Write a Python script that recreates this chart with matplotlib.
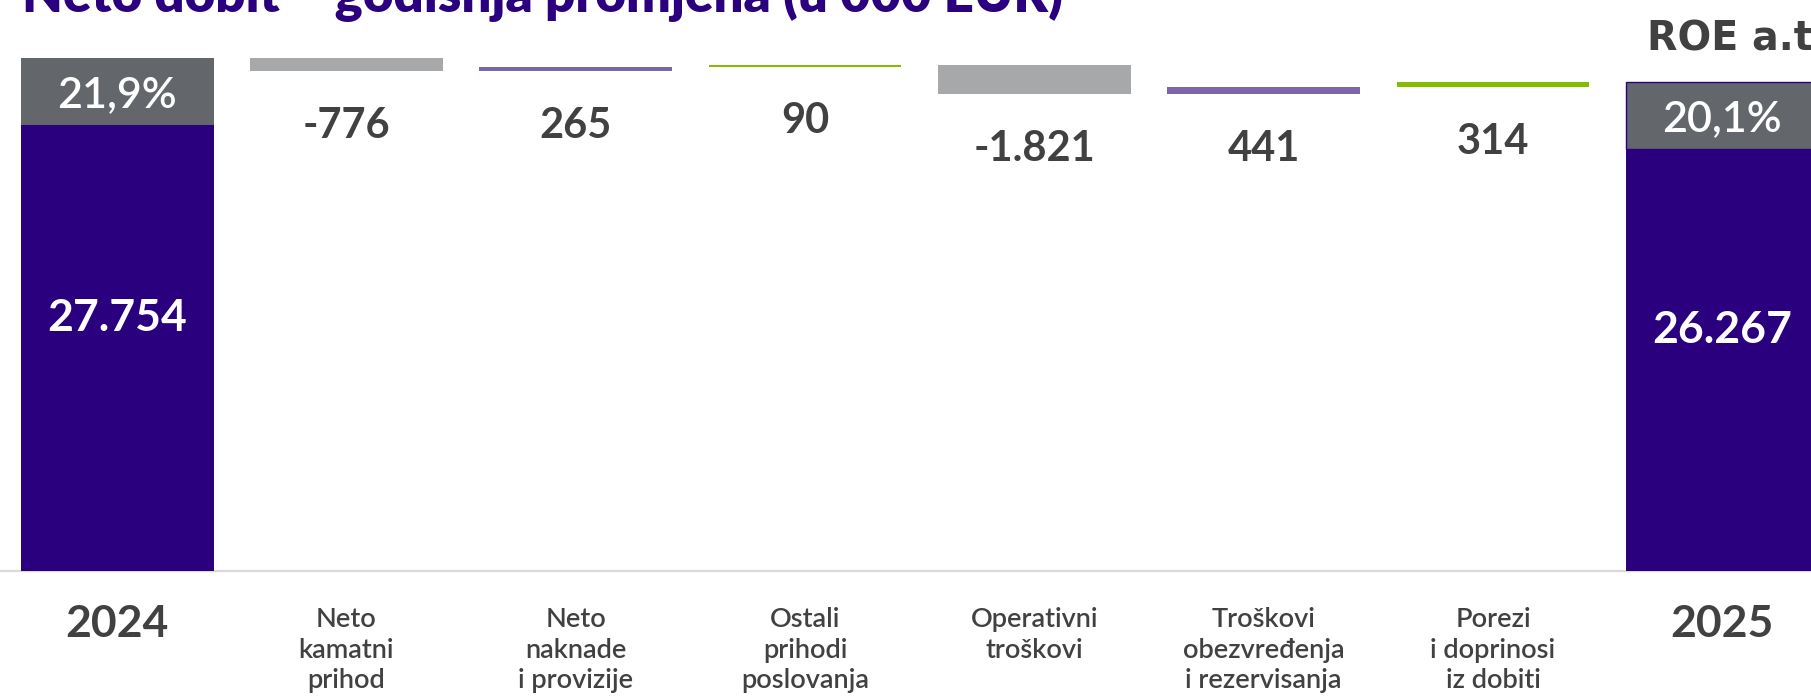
import matplotlib
matplotlib.use("Agg")
import matplotlib.pyplot as plt
from matplotlib.transforms import blended_transform_factory

# ---------------- data ----------------
categories = ["2024", "Neto\nkamatni\nprihod", "Neto\nnaknade\ni provizije",
              "Ostali\nprihodi\nposlovanja", "Operativni\ntroškovi",
              "Troškovi\nobezvređenja\ni rezervisanja", "Porezi\ni doprinosi\niz dobiti", "2025"]
net_2024 = 27754
net_2025 = 26267
changes = [-776, 265, 90, -1821, 441, 314]
change_labels = ["-776", "265", "90", "-1.821", "441", "314"]
total_labels = ["27.754", "26.267"]
roe_labels = ["21,9%", "20,1%"]
title = "Neto dobit – godišnja promjena (u 000 EUR)"
roe_header = "ROE a.t."

# ---------------- style ----------------
DARK = "#2b007f"
ROE_GRAY = "#63666a"
NEG_GRAY = "#a7a8aa"
LPURPLE = "#7c66ab"
GREEN = "#84bd00"
TEXT = "#414141"
change_colors = [NEG_GRAY, LPURPLE, GREEN, NEG_GRAY, LPURPLE, GREEN]
ROE_BOX_H = 4140
BAR_W = 0.84

plt.rcParams["font.family"] = ["Lato", "DejaVu Sans"]

W, H = 1811, 698
fig = plt.figure(figsize=(W / 100, H / 100), dpi=100)
ax_bottom = (H - 571) / H
ax = fig.add_axes([0, ax_bottom, 1, 1 - ax_bottom])
ax.set_xlim(-117.2 / 229.3, (W - 117.2) / 229.3)
ax.set_ylim(0, 571 / 0.01607)
ax.axis("off")

# baseline
ax.axhline(0, color="#d9d9d9", lw=1.6, zorder=0, clip_on=False)

# totals
tot_x = [0, len(categories) - 1]
tot_vals = [net_2024, net_2025]
for i, (x, v) in enumerate(zip(tot_x, tot_vals)):
    ax.bar(x, v, width=BAR_W, color=DARK, zorder=2)
    ax.bar(x, ROE_BOX_H, bottom=v, width=BAR_W, color=ROE_GRAY, zorder=2,
           edgecolor=DARK if i == 1 else "none", lw=1.0 if i == 1 else 0)
    ax.text(x, (v + ROE_BOX_H) / 2, total_labels[i], color="white", ha="center",
            va="center_baseline", fontsize=32, fontweight="bold", zorder=3)
    ax.text(x, v + ROE_BOX_H / 2, roe_labels[i], color="white", ha="center",
            va="center_baseline", fontsize=31, fontweight="semibold", zorder=3)

# floating changes
level = net_2024 + ROE_BOX_H
for k, d in enumerate(changes):
    x = k + 1
    bottom = min(level, level + d)
    ax.bar(x, abs(d), bottom=bottom, width=BAR_W, color=change_colors[k], zorder=2)
    ax.annotate(change_labels[k], xy=(x, bottom), xytext=(0, -48),
                textcoords="offset points", ha="center", va="baseline",
                fontsize=30, fontweight="bold", color=TEXT)
    level += d

# category labels
tr = blended_transform_factory(ax.transData, ax.transAxes)
for i, lab in enumerate(categories):
    if i in tot_x:
        ax.annotate(lab, xy=(i, 0), xycoords=tr, xytext=(0, -47.5),
                    textcoords="offset points", ha="center", va="baseline",
                    fontsize=32, fontweight="bold", color=TEXT, annotation_clip=False)
    else:
        ax.annotate(lab, xy=(i, 0), xycoords=tr, xytext=(0, -26.0),
                    textcoords="offset points", ha="center", va="top",
                    fontsize=19.5, fontweight="semibold", color=TEXT,
                    linespacing=1.27, multialignment="center", annotation_clip=False)

# ROE header
ax.text(len(categories) - 1 - 0.328, (571 - 50) / 0.01607, roe_header, ha="left",
        va="baseline", fontsize=28.5, fontweight="bold", color=TEXT, clip_on=False,
        family=["DejaVu Sans"])

# title (cut off at the top as in the source)
fig.text(22 / W, 1 - 12 / H, title, ha="left", va="baseline", fontsize=38,
         fontweight="heavy", color=DARK)

fig.savefig("out.png", dpi=100)
